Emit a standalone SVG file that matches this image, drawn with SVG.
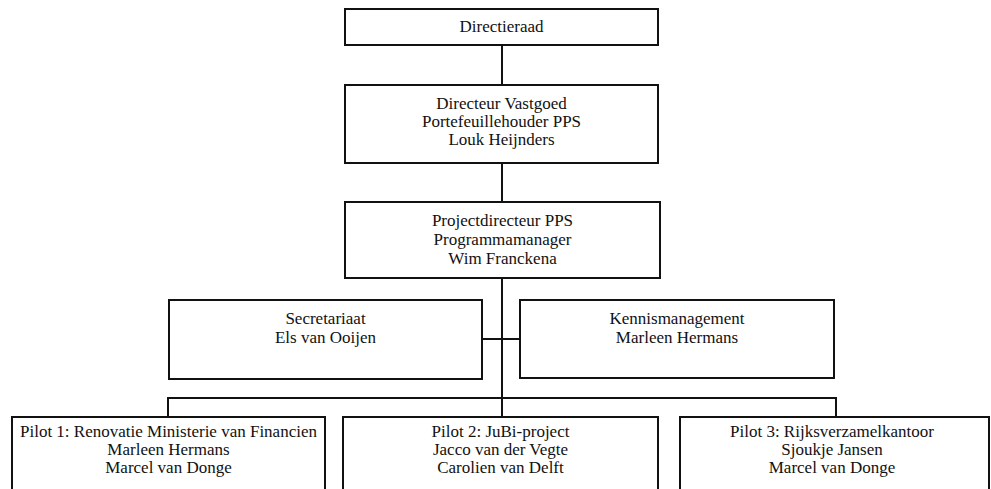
<svg xmlns="http://www.w3.org/2000/svg" width="991" height="489" viewBox="0 0 991 489">
<style>
  .box { fill: #ffffff; stroke: #111111; stroke-width: 2; }
  .ln { stroke: #111111; stroke-width: 2; fill: none; }
  text { font-family: "Liberation Serif", "Times New Roman", serif; font-size: 17px; fill: #111111; text-anchor: middle; }
</style>
<rect width="991" height="489" fill="#ffffff"/>
<g id="connectors">
  <line class="ln" x1="502" y1="45" x2="502" y2="85"/>
  <line class="ln" x1="502" y1="163" x2="502" y2="202"/>
  <line class="ln" x1="502" y1="278" x2="502" y2="417"/>
  <line class="ln" x1="482" y1="339" x2="520" y2="339"/>
  <polyline class="ln" points="168,417 168,398 836,398 836,417"/>
</g>
<g id="directieraad">
  <rect class="box" x="345" y="9" width="313" height="36"/>
  <text x="501.5" y="32">Directieraad</text>
</g>
<g id="directeur">
  <rect class="box" x="345" y="85" width="313" height="78"/>
  <text x="501.5" y="109">Directeur Vastgoed</text>
  <text x="501.5" y="127">Portefeuillehouder PPS</text>
  <text x="501.5" y="145">Louk Heijnders</text>
</g>
<g id="projectdirecteur">
  <rect class="box" x="345" y="202" width="315" height="76"/>
  <text x="502.5" y="226">Projectdirecteur PPS</text>
  <text x="502.5" y="245">Programmamanager</text>
  <text x="502.5" y="264">Wim Franckena</text>
</g>
<g id="secretariaat">
  <rect class="box" x="169" y="300" width="313" height="79"/>
  <text x="325.5" y="324">Secretariaat</text>
  <text x="325.5" y="343">Els van Ooijen</text>
</g>
<g id="kennismanagement">
  <rect class="box" x="520" y="300" width="314" height="78"/>
  <text x="677" y="324">Kennismanagement</text>
  <text x="677" y="343">Marleen Hermans</text>
</g>
<g id="pilot1">
  <rect class="box" x="12" y="417" width="313" height="90"/>
  <text x="168.5" y="437">Pilot 1: Renovatie Ministerie van Financien</text>
  <text x="168.5" y="455">Marleen Hermans</text>
  <text x="168.5" y="473">Marcel van Donge</text>
</g>
<g id="pilot2">
  <rect class="box" x="343" y="417" width="315" height="90"/>
  <text x="500.5" y="437">Pilot 2: JuBi-project</text>
  <text x="500.5" y="455">Jacco van der Vegte</text>
  <text x="500.5" y="473">Carolien van Delft</text>
</g>
<g id="pilot3">
  <rect class="box" x="680" y="417" width="309" height="90"/>
  <text x="832" y="437">Pilot 3: Rijksverzamelkantoor</text>
  <text x="832" y="455">Sjoukje Jansen</text>
  <text x="832" y="473">Marcel van Donge</text>
</g>
</svg>
